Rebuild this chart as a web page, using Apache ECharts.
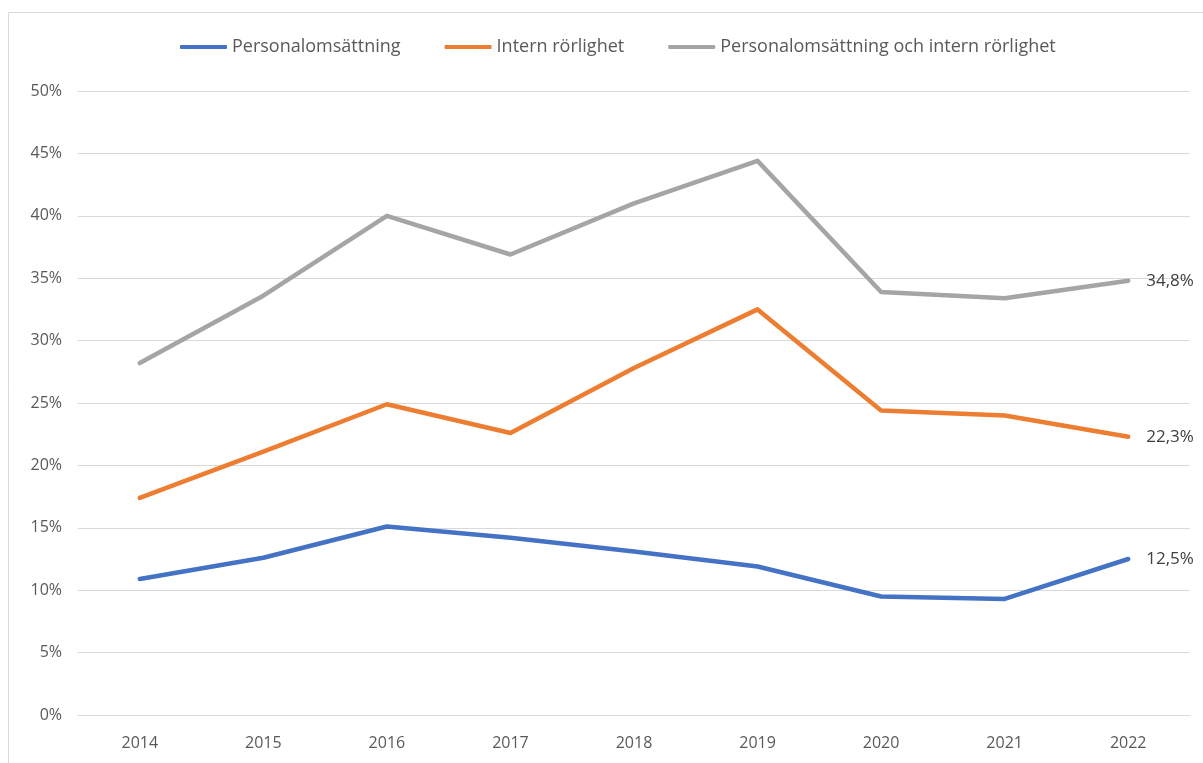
<!DOCTYPE html>
<html><head><meta charset="utf-8">
<script src="https://cdn.jsdelivr.net/npm/echarts@6/dist/echarts.min.js"></script>
<style>html,body{margin:0;padding:0;background:#fff}#c{width:1203px;height:763px}</style>
</head><body><div id="c"></div>
<script>
const years = ['2014','2015','2016','2017','2018','2019','2020','2021','2022'];
const personal = [10.9, 12.6, 15.1, 14.2, 13.1, 11.9, 9.5, 9.3, 12.5];
const intern = [17.4, 21.1, 24.9, 22.6, 27.8, 32.5, 24.4, 24.0, 22.3];
const total = [28.2, 33.6, 40.0, 36.9, 41.0, 44.4, 33.9, 33.4, 34.8];
const names = ['Personalomsättning', 'Intern rörlighet', 'Personalomsättning och intern rörlighet'];
const colors = ['#4472C4', '#ED7D31', '#A5A5A5'];
const font = '"Open Sans", sans-serif';

function mk(name, data, color) {
  return {
    name, type: 'line', data, symbol: 'none', smooth: false,
    lineStyle: { width: 4.5, color, cap: 'round', join: 'round' },
    itemStyle: { color },
    endLabel: {
      show: true, distance: 18,
      color: '#404040', fontSize: 17, fontFamily: font,
      formatter: p => p.value.toFixed(1).replace('.', ',') + '%'
    },
    emphasis: { disabled: true }
  };
}

const chart = echarts.init(document.getElementById('c'));
chart.setOption({
  animation: false,
  graphic: [{ type: 'rect', shape: { x: 8.5, y: 12.5, width: 1200, height: 760 },
    style: { fill: 'none', stroke: '#d9d9d9', lineWidth: 1 }, silent: true }],
  color: colors,
  legend: {
    top: 33, left: 175, itemWidth: 47, itemHeight: 4, itemGap: 44,
    icon: 'roundRect',
    textStyle: { fontSize: 18, color: '#595959', fontFamily: font },
    data: names
  },
  grid: { left: 78, right: 13, top: 91, bottom: 48, containLabel: false },
  xAxis: {
    type: 'category', data: years, boundaryGap: true,
    axisLine: { show: true, lineStyle: { color: '#d9d9d9', width: 1 } },
    axisTick: { show: false },
    axisLabel: { color: '#595959', fontSize: 16, fontFamily: font, margin: 20 }
  },
  yAxis: {
    type: 'value', min: 0, max: 50, interval: 5,
    axisLine: { show: false }, axisTick: { show: false },
    splitLine: { lineStyle: { color: '#d9d9d9', width: 1 } },
    axisLabel: { color: '#595959', fontSize: 16, fontFamily: font, margin: 16, formatter: v => v + '%' }
  },
  series: [mk(names[0], personal, colors[0]), mk(names[1], intern, colors[1]), mk(names[2], total, colors[2])]
});
</script></body></html>
